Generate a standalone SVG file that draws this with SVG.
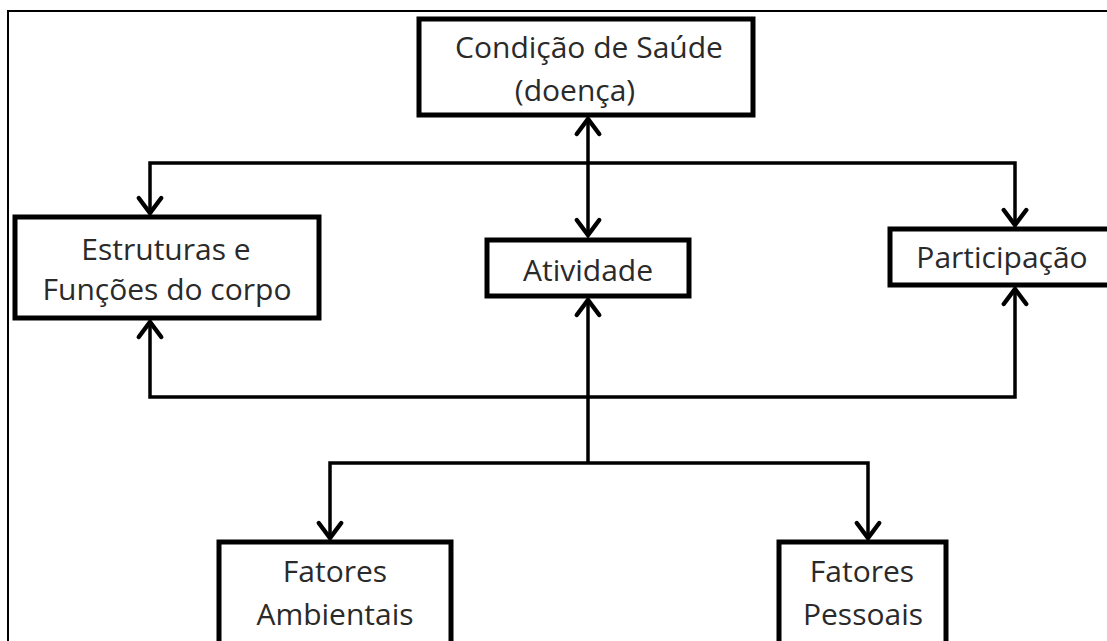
<svg xmlns="http://www.w3.org/2000/svg" width="1107" height="641" viewBox="0 0 1107 641">
<style>
.box{fill:#fff;stroke:#000;stroke-width:5}
.lbl{font-family:"Open Sans","Noto Sans",sans-serif;font-size:30px;fill:#2a2a2a;text-anchor:middle}
.con{fill:none;stroke:#000;stroke-width:3.5;stroke-linejoin:miter}
</style>
<defs>
<marker id="ah" markerUnits="userSpaceOnUse" markerWidth="30" markerHeight="30" viewBox="-16 -12 20 24" refX="0" refY="0" orient="auto-start-reverse" overflow="visible">
<path d="M-12,-9 L0,0 L-12,9" fill="none" stroke="#000" stroke-width="3.5" stroke-linecap="round" stroke-linejoin="miter"/>
</marker>
</defs>
<rect width="1107" height="641" fill="#fff"/>
<rect x="8" y="11" width="1120" height="660" fill="none" stroke="#000" stroke-width="2"/>
<g id="connectors">
<path class="con" d="M150,213 L150,163 L1015,163 L1015,225" marker-start="url(#ah)" marker-end="url(#ah)"/>
<path class="con" d="M588,119 L588,235" marker-start="url(#ah)" marker-end="url(#ah)"/>
<path class="con" d="M150,322 L150,397 L1015,397 L1015,289" marker-start="url(#ah)" marker-end="url(#ah)"/>
<path class="con" d="M588,463 L588,300" marker-end="url(#ah)"/>
<path class="con" d="M330,538 L330,463 L868,463 L868,538" marker-start="url(#ah)" marker-end="url(#ah)"/>
</g>
<g id="condicao">
<rect class="box" x="419" y="19" width="334" height="96"/>
<text class="lbl" x="589" y="58">Condição de Saúde</text>
<text class="lbl" x="575" y="101">(doença)</text>
</g>
<g id="estruturas">
<rect class="box" x="15" y="217" width="304" height="101"/>
<text class="lbl" x="166" y="260">Estruturas e</text>
<text class="lbl" x="167" y="300">Funções do corpo</text>
</g>
<g id="atividade">
<rect class="box" x="487" y="240" width="202" height="56"/>
<text class="lbl" x="588" y="281">Atividade</text>
</g>
<g id="participacao">
<rect class="box" x="890" y="229" width="240" height="56"/>
<text class="lbl" x="1002" y="268">Participação</text>
</g>
<g id="ambientais">
<rect class="box" x="219" y="542" width="232" height="120"/>
<text class="lbl" x="335" y="582">Fatores</text>
<text class="lbl" x="335" y="625">Ambientais</text>
</g>
<g id="pessoais">
<rect class="box" x="779" y="542" width="167" height="120"/>
<text class="lbl" x="862" y="582">Fatores</text>
<text class="lbl" x="863" y="625">Pessoais</text>
</g>
</svg>
